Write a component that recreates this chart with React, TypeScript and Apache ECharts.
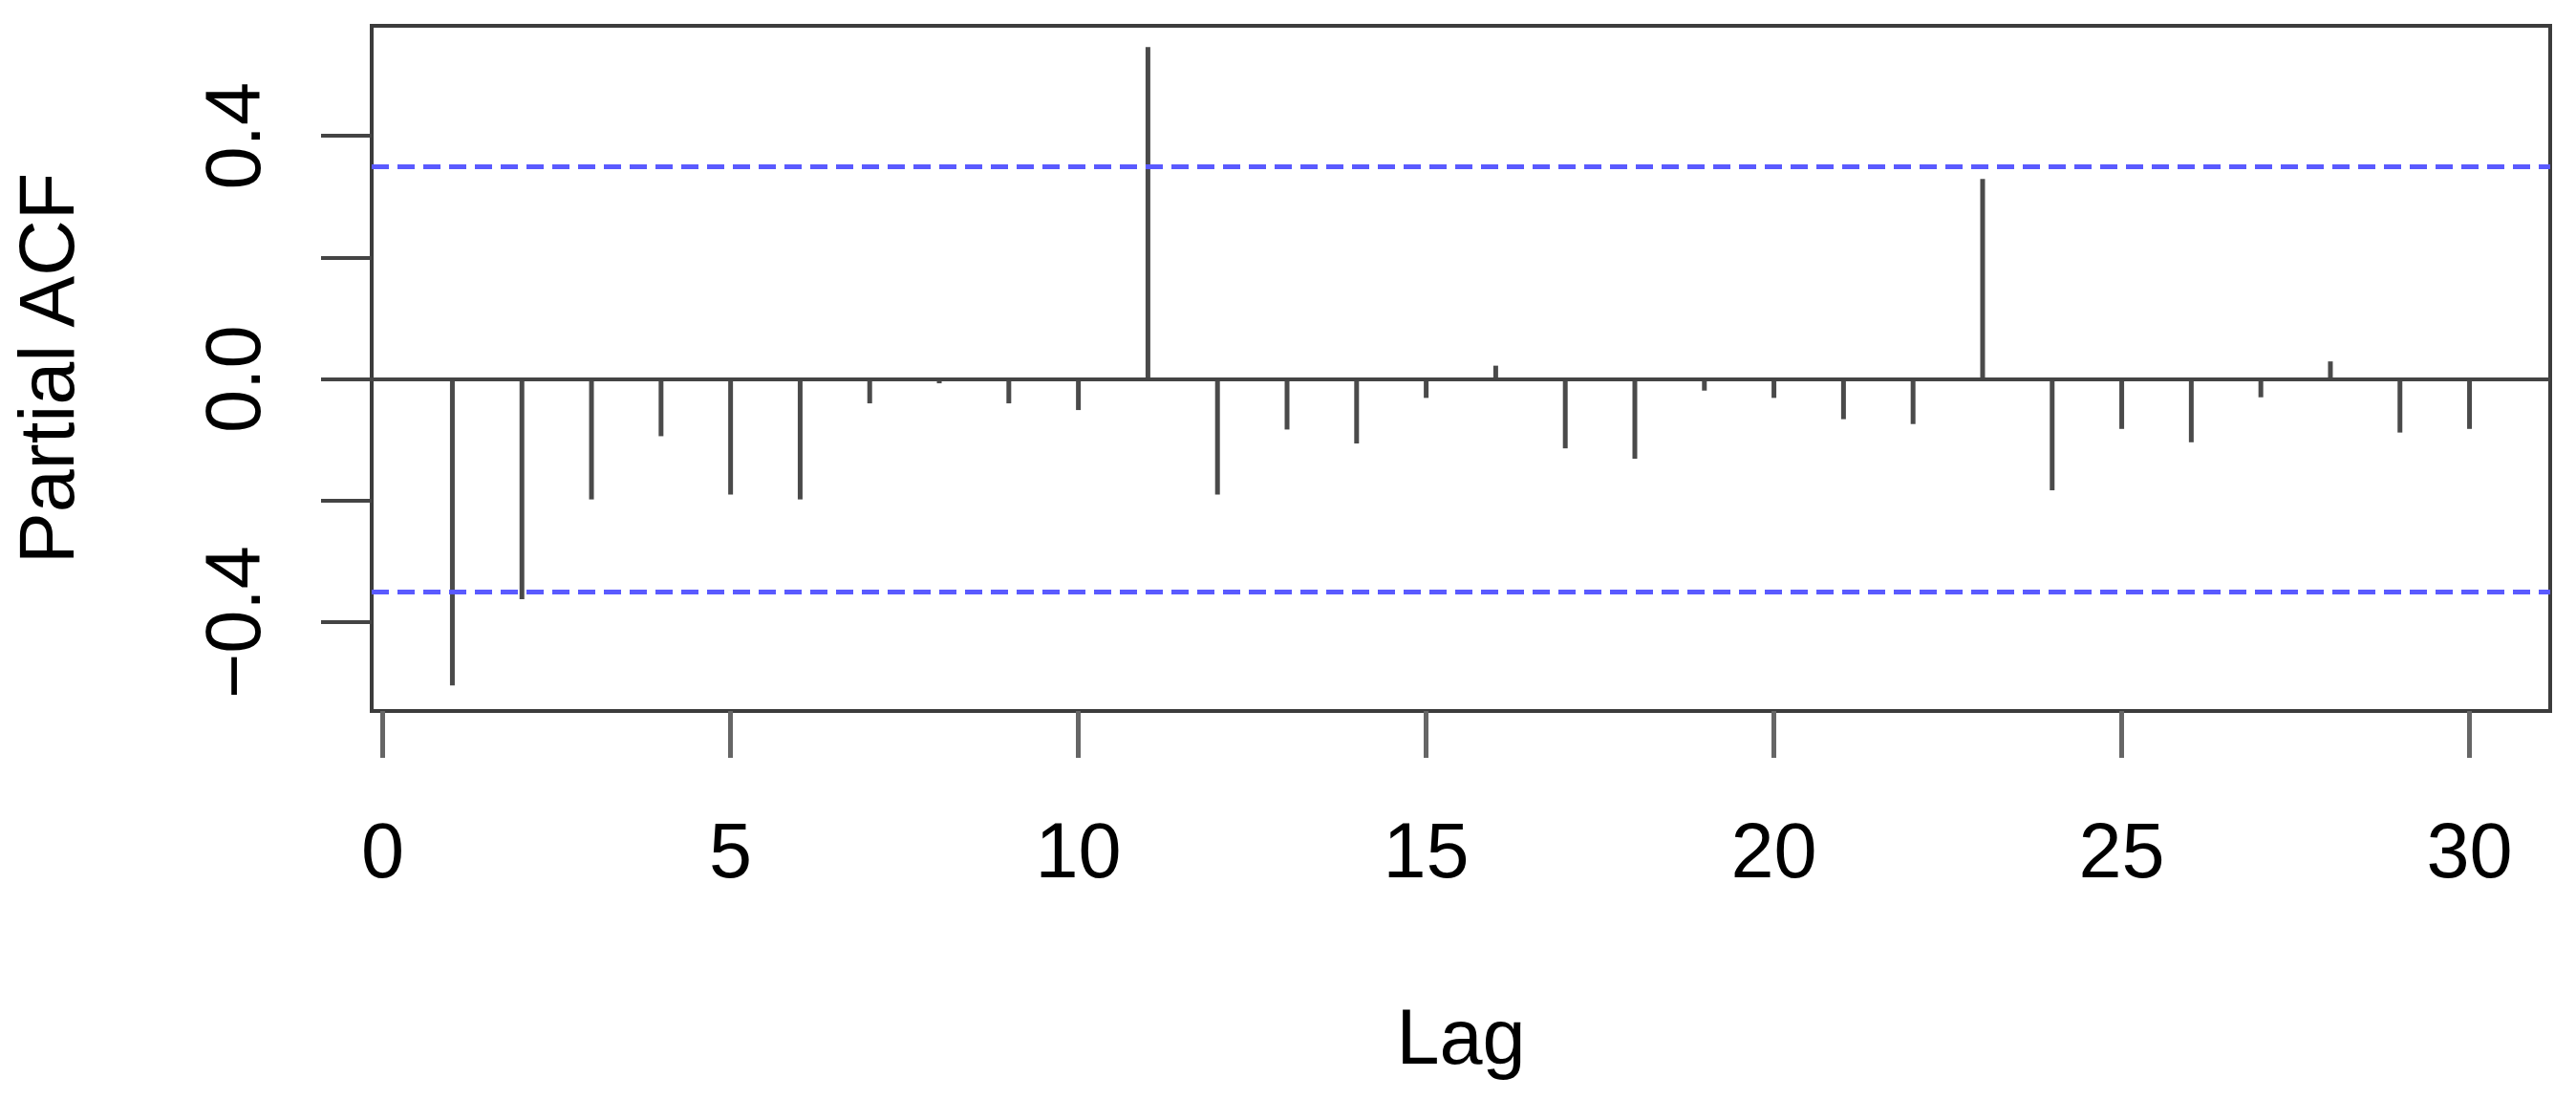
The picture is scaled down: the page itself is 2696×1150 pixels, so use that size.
import React, { useEffect, useRef } from "react";
import * as echarts from "echarts";

const lags = [
  1, 2, 3, 4, 5, 6, 7, 8, 9, 10, 11, 12, 13, 14, 15, 16, 17, 18, 19, 20, 21, 22, 23, 24, 25, 26, 27, 28, 29, 30,
];
const pacfValues = [
  -0.504, -0.362, -0.198, -0.094, -0.19, -0.198, -0.04, -0.007, -0.04, -0.051, 0.546, -0.19, -0.083, -0.106,
  -0.031, 0.022, -0.114, -0.131, -0.019, -0.031, -0.066, -0.074, 0.329, -0.183, -0.082, -0.104, -0.03, 0.029,
  -0.088, -0.082,
];
const ciBound = 0.352;
const xTickValues = [0, 5, 10, 15, 20, 25, 30];
const yTickValues = [-0.4, -0.2, 0, 0.2, 0.4];
const yLabelValues = [-0.4, 0, 0.4];
const xAxisTitle = "Lag";
const yAxisTitle = "Partial ACF";

export default function App() {
  const ref = useRef<HTMLDivElement>(null);

  useEffect(() => {
    const chart = echarts.init(ref.current as HTMLDivElement, null, { renderer: "svg" });
    const font = "'Liberation Sans', Arial, Helvetica, sans-serif";
    chart.setOption({
      animation: false,
      backgroundColor: "#ffffff",
      grid: {
        left: 387,
        right: 27,
        top: 27,
        bottom: 406,
        show: true,
        borderColor: "#3c3c3c",
        borderWidth: 4,
        containLabel: false,
      },
      xAxis: {
        type: "value",
        min: -0.16,
        max: 31.16,
        axisLine: { show: false, onZero: false },
        splitLine: { show: false },
        axisTick: {
          show: true,
          customValues: xTickValues,
          length: 49,
          lineStyle: { color: "#666666", width: 5 },
        },
        axisLabel: {
          customValues: xTickValues,
          margin: 105,
          fontSize: 81,
          color: "#000000",
          fontFamily: font,
        },
        name: xAxisTitle,
        nameLocation: "middle",
        nameGap: 300,
        nameTextStyle: { fontSize: 81, color: "#000000", fontFamily: font },
      },
      yAxis: {
        type: "value",
        min: -0.546,
        max: 0.581,
        axisLine: { show: false, onZero: false },
        splitLine: { show: false },
        axisTick: {
          show: true,
          customValues: yTickValues,
          length: 53,
          lineStyle: { color: "#444444", width: 4 },
        },
        axisLabel: {
          customValues: yLabelValues,
          rotate: 90,
          margin: 105,
          fontSize: 81,
          color: "#000000",
          fontFamily: font,
          formatter: (v: number) => v.toFixed(1).replace("-", "\u2212"),
        },
        name: yAxisTitle,
        nameLocation: "middle",
        nameGap: 300,
        nameTextStyle: { fontSize: 81, color: "#000000", fontFamily: font },
      },
      series: [
        {
          type: "bar",
          data: lags.map((l, i) => [l, pacfValues[i]]),
          barWidth: 5,
          itemStyle: { color: "#4a4a4a" },
          markLine: {
            silent: true,
            symbol: ["none", "none"],
            label: { show: false },
            data: [
              { yAxis: 0, lineStyle: { color: "#444444", width: 4, type: "solid" } },
              { yAxis: ciBound, lineStyle: { color: "#5a5aff", width: 5, type: [18, 9] } },
              { yAxis: -ciBound, lineStyle: { color: "#5a5aff", width: 5, type: [18, 9] } },
            ],
          },
        },
      ],
    });
    return () => chart.dispose();
  }, []);

  return (
    <div
      ref={ref}
      style={{ position: "fixed", left: 0, top: 0, width: 2696, height: 1150, background: "#ffffff" }}
    />
  );
}
